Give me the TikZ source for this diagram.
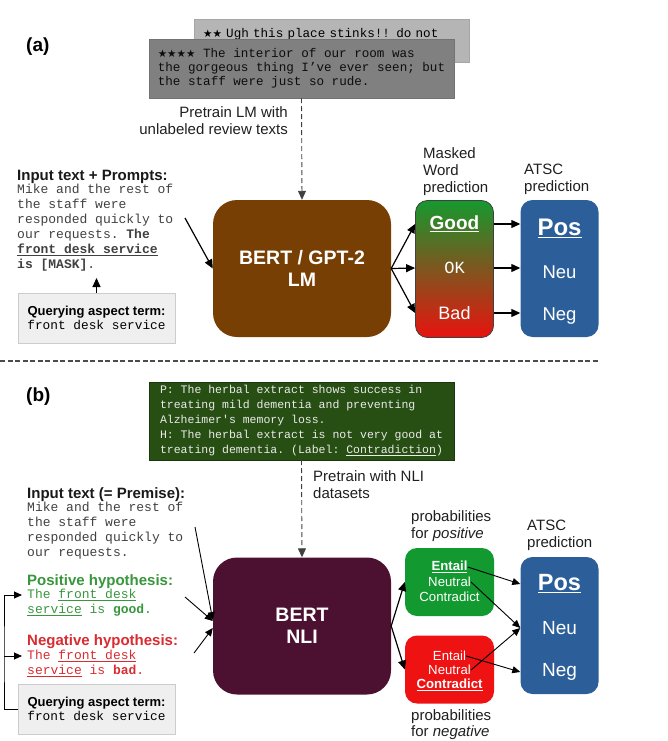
\documentclass[tikz,border=0pt]{standalone}
\usepackage{fontspec}
\setmainfont{Liberation Sans}
\setmonofont{Liberation Mono}
\newfontfamily\starfont{DejaVu Sans}
\usetikzlibrary{arrows.meta}
\definecolor{revlight}{HTML}{B5B5B5}
\definecolor{revdark}{HTML}{808080}
\definecolor{qgray}{HTML}{EFEFEF}
\definecolor{lmbrown}{HTML}{783F04}
\definecolor{atscblue}{HTML}{2C5F9A}
\definecolor{nligreen}{HTML}{274E13}
\definecolor{nlimaroon}{HTML}{4C1130}
\definecolor{probgreen}{HTML}{129A30}
\definecolor{probred}{HTML}{EE1212}
\definecolor{hypgreen}{HTML}{38963C}
\definecolor{hypred}{HTML}{D92B30}
\definecolor{wdtop}{HTML}{16982E}
\definecolor{wdmid}{HTML}{7A4A1E}
\definecolor{wdbot}{HTML}{E8130F}
\newcommand{\revstars}[1]{{\starfont\fontsize{10.5}{10.5}\selectfont #1}}
\tikzset{
	arr/.style={-{Triangle[length=9pt,width=8pt]}, line width=1.2pt},
	arrt/.style={-{Triangle[length=8pt,width=7pt]}, line width=0.9pt},
	dline/.style={-{Triangle[length=9pt,width=8pt]}, dash pattern=on 5pt off 3pt, line width=0.9pt, draw=black!75},
	divline/.style={dash pattern=on 5pt off 2.5pt, line width=1.5pt, draw=black!70},
	parttag/.style={font=\bfseries\fontsize{19}{19}\selectfont, anchor=west, inner sep=0pt},
	lbl/.style={font=\fontsize{15}{17}\selectfont, align=left, inner sep=0pt, anchor=north west, text=black!88},
	hdr/.style={font=\bfseries\fontsize{15}{17}\selectfont, inner sep=0pt, anchor=north west, text=black!90},
	intxt/.style={font=\ttfamily\fontsize{13}{15}\selectfont, align=left, inner sep=0pt, anchor=north west, text=black!75},
	qbox/.style={fill=qgray, draw=black!20, minimum width=157pt, minimum height=50pt, align=center, inner sep=0pt, font=\fontsize{13}{14}\selectfont},
	bigbox/.style={rounded corners=24pt, minimum width=178pt, minimum height=137pt, align=center, text=white, font=\bfseries\fontsize{19.5}{22}\selectfont},
	tallbox/.style={rounded corners=12pt, minimum width=78pt, minimum height=137pt},
	probbox/.style={rounded corners=12pt, minimum width=89pt, minimum height=68pt},
	wtxt/.style={text=white, inner sep=0pt},
	ptxt/.style={text=white, inner sep=0pt, font=\fontsize{13.2}{15}\selectfont}
}
\begin{document}
\begin{tikzpicture}[x=1pt,y=-1pt]
	\useasboundingbox (0,0) rectangle (668,741);
	\node[parttag] (taga) at (26,47) {(a)};
	\node[fill=revlight, draw=black!35, anchor=north west, inner xsep=9pt, inner ysep=0pt, text height=18pt, text depth=25pt, text width=257pt, align=left, font=\ttfamily\fontsize{12.6}{14}\selectfont] (rev0) at (194,19) {\revstars{★★} Ugh this place stinks!! do not};
	\node[fill=revdark, draw=black!55, minimum width=305pt, minimum height=59pt, inner xsep=8pt, align=left, font=\ttfamily\fontsize{12.6}{14}\selectfont, text=black!95] (rev) at (301.5,68.5) {\revstars{★★★★} The interior of our room was\\the gorgeous thing I’ve ever seen; but\\the staff were just so rude.};
	\node[lbl, align=right, anchor=north east] (ptlm) at (288,106) {Pretrain LM with\\unlabeled review texts};
	\node[hdr] (inhd) at (17,170) {Input text + Prompts:};
	\node[intxt] (ina) at (17,184) {Mike and the rest of\\the staff were\\responded quickly to\\our requests. \textbf{The}\\\underline{\textbf{front desk service}}\\\textbf{is [MASK]}.};
	\node[qbox] (qa) at (96.5,318) {{\bfseries Querying aspect term:}\\{\ttfamily\fontsize{12.8}{14}\selectfont front desk service}};
	\coordinate (qtip) at (96.5,278);
	\draw[arr] (qa.north) -- (qtip);
	\coordinate (ia) at (185,218);
	\node[bigbox, fill=lmbrown] (lm) at (302,268.5) {BERT / GPT-2\\LM};
	\draw[arr] (ia) -- (lm.west);
	\draw[dline] (rev.south) -- (lm.north);
	\node[lbl] (mwp) at (423,147) {Masked\\Word\\prediction};
	\node[lbl] (atsa) at (524,164) {ATSC\\prediction};
	\node[tallbox, top color=wdtop, middle color=wdmid, bottom color=wdbot, draw=black!75, line width=0.8pt] (wd) at (454.5,269) {};
	\node[wtxt, font=\bfseries\fontsize{19}{19}\selectfont] (gd) at (454.5,224) {\underline{Good}};
	\node[wtxt, font=\ttfamily\fontsize{17}{17}\selectfont] (ok) at (454.5,268) {OK};
	\node[wtxt, font=\fontsize{18}{18}\selectfont] (bd) at (454.5,313) {Bad};
	\node[tallbox, fill=atscblue] (at) at (559.5,268.5) {};
	\node[wtxt, font=\bfseries\fontsize{24}{24}\selectfont] (pa) at (559.5,228) {\underline{Pos}};
	\node[wtxt, font=\fontsize{18.5}{18.5}\selectfont] (ua) at (559.5,272) {Neu};
	\node[wtxt, font=\fontsize{18.5}{18.5}\selectfont] (ga) at (559.5,316) {Neg};
	\foreach \t in {gd,ok,bd}
	\draw[arr] (lm.east) -- (wd.west |- \t);
	\foreach \t in {gd,ok,bd}
	\draw[arr] (wd.east |- \t) -- (at.west |- \t);
	\draw[divline] (0,361) -- (598,361);
	\node[parttag] (tagb) at (26,397) {(b)};
	\node[fill=nligreen, draw=nligreen!70!black, minimum width=305pt, minimum height=78pt, align=left, font=\ttfamily\fontsize{11.5}{15}\selectfont, text=black!8] (nli) at (301.5,421) {P: The herbal extract shows success in\\treating mild dementia and preventing\\Alzheimer's memory loss.\\H: The herbal extract is not very good at\\treating dementia. (Label: \underline{Contradiction})};
	\node[lbl] (ptnli) at (313,470) {Pretrain with NLI\\datasets};
	\node[hdr] (inhdb) at (27,487) {Input text (= Premise):};
	\node[intxt] (inb) at (27,502) {Mike and the rest of\\the staff were\\responded quickly to\\our requests.};
	\node[hdr, text=hypgreen] (phd) at (27,574) {Positive hypothesis:};
	\node[intxt, text=hypgreen] (ptx) at (27,589) {The \underline{front desk}\\\underline{service} is \textbf{good}.};
	\node[hdr, text=hypred] (nhd) at (27,634) {Negative hypothesis:};
	\node[intxt, text=hypred] (ntx) at (27,650) {The \underline{front desk}\\\underline{service} is \textbf{bad}.};
	\node[qbox] (qb) at (96.5,709) {{\bfseries Querying aspect term:}\\{\ttfamily\fontsize{12.8}{14}\selectfont front desk service}};
	\coordinate (brk) at (4,656);
	\coordinate (hp) at (22,595);
	\coordinate (hn) at (22,656);
	\draw[arrt] (qb.west) -| (brk) |- (hp);
	\draw[arrt] (brk) -- (hn);
	\node[bigbox, fill=nlimaroon] (bn) at (302,626) {BERT\\NLI};
	\draw[dline] (nli.south) -- (bn.north);
	\coordinate (ib) at (195,527);
	\coordinate (ip) at (185,597);
	\coordinate (inn) at (194,653);
	\draw[arrt] (ib) -- ([yshift=6pt]bn.west);
	\draw[arrt] (ip) -- ([yshift=5pt]bn.west);
	\draw[arrt] (inn) -- ([yshift=-2pt]bn.west);
	\node[lbl] (prp) at (411,510) {probabilities\\for \emph{positive}};
	\node[lbl] (atsb) at (527,520) {ATSC\\prediction};
	\node[lbl, font=\fontsize{15}{16}\selectfont] (prn) at (411,709) {probabilities\\for \emph{negative}};
	\node[probbox, fill=probgreen] (pp) at (449.5,582) {};
	\node[probbox, fill=probred] (pn) at (449.5,669.5) {};
	\node[ptxt] (pe) at (449.5,567) {\underline{\textbf{Entail}}};
	\node[ptxt] (pu) at (449.5,582) {Neutral};
	\node[ptxt] (pc) at (449.5,597) {Contradict};
	\node[ptxt] (ne) at (449.5,656) {Entail};
	\node[ptxt] (nu) at (449.5,670) {Neutral};
	\node[ptxt] (nc) at (449.5,685) {\underline{\textbf{Contradict}}};
	\draw[arr] (bn.east) -- (pp.west);
	\draw[arr] (bn.east) -- (pn.west);
	\node[tallbox, fill=atscblue] (ab) at (559.5,625.5) {};
	\node[wtxt, font=\bfseries\fontsize{23.5}{23.5}\selectfont] (pb) at (559.5,584) {\underline{Pos}};
	\node[wtxt, font=\fontsize{19}{19}\selectfont] (ub) at (559.5,628) {Neu};
	\node[wtxt, font=\fontsize{19}{19}\selectfont] (gb) at (559.5,672) {Neg};
	\draw[arrt] (pe.east) -- (ab.west |- pb);
	\draw[arrt] (pu.east) -- (ab.west |- ub);
	\draw[arrt] (ne.east) -- (ab.west |- gb);
	\draw[arrt] (nu.east) -- (ab.west |- ub);
\end{tikzpicture}
\end{document}
